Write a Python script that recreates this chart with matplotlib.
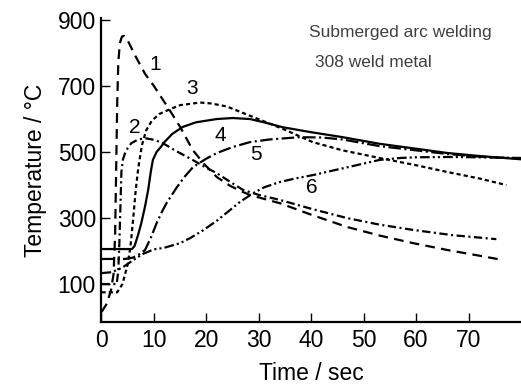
import matplotlib
matplotlib.use("Agg")
import matplotlib.pyplot as plt

plt.rcParams["font.family"] = ["Liberation Sans", "DejaVu Sans"]
plt.rcParams["lines.scale_dashes"] = False

# cooling curves (time in s, temperature in degC)
t1 = [0, 1, 1.8, 2.3, 2.6, 2.8, 3.0, 3.2, 3.5, 3.9, 4.3, 5, 6.5, 8.3, 10, 13, 15, 17.4, 19.5,
      22, 24.5, 26.5, 28.3, 31, 34, 40, 46.8, 53, 59.4, 66, 72, 76.5]
temp1 = [15, 40, 80, 130, 250, 450, 650, 770, 830, 850, 852, 838, 790, 737, 700, 627, 576, 506, 465,
         424, 398, 382, 370, 358, 345, 310, 273, 247, 224, 203, 186, 173]

t2 = [0, 2.9, 3.2, 3.4, 3.6, 3.8, 4.1, 4.5, 5.0, 5.7, 7, 8.3, 10, 11.7, 14, 17.4, 20, 22,
      24.5, 27, 30, 34, 40, 46.8, 53, 59.4, 67, 75.3]
temp2 = [100, 100, 140, 220, 330, 440, 478, 497, 512, 527, 538, 542, 537, 527, 505, 476, 452, 436,
         410, 385, 370, 355, 328, 300, 280, 264, 248, 236]

t3 = [0, 3.0, 4.0, 5.0, 5.5, 6.0, 6.5, 7.0, 7.7, 8.5, 9.6, 11, 13.4, 15, 18.8, 21, 23.9, 28.3,
      34.6, 40.3, 46, 53, 60, 65.8, 72, 77.2]
temp3 = [75, 75, 100, 160, 210, 290, 380, 450, 520, 565, 595, 615, 632, 642, 650, 647, 638, 610,
         570, 530, 505, 482, 460, 440, 420, 400]

t4 = [0, 5.8, 6.3, 7, 7.6, 8.3, 8.9, 9.4, 9.8, 10.5, 11.3, 12, 13.5, 15.5, 18, 22, 25, 28.3,
      31, 34.6, 40, 46, 53, 60, 66, 72, 80]
temp4 = [206, 206, 215, 250, 285, 335, 385, 440, 476, 500, 515, 530, 555, 576, 590, 600, 603, 600,
         590, 575, 560, 545, 525, 510, 497, 488, 478]

t5 = [0, 4.5, 6, 7.2, 8.3, 9.4, 10.5, 11.5, 12.4, 14.4, 16, 17.5, 20, 22, 25, 28.3, 32, 37.8,
      42, 46, 53, 60, 66, 72, 80]
temp5 = [176, 176, 180, 190, 203, 240, 284, 318, 345, 394, 428, 455, 480, 497, 515, 530, 538, 545,
         544, 538, 518, 505, 494, 486, 480]

t6 = [0, 2, 4, 6, 8, 10, 12, 15, 17, 19.4, 22, 24.5, 26.5, 28.9, 31, 34, 37, 40.3, 45, 50,
      53, 57, 60, 66.4, 72, 80]
temp6 = [133, 136, 150, 172, 192, 205, 210, 224, 240, 263, 292, 324, 350, 375, 393, 409, 420, 430,
         447, 465, 476, 482, 484, 485, 484, 482]

curve_names = ["1", "2", "3", "4", "5", "6"]
label_t = [10.2, 6.4, 17.2, 22.6, 29.4, 40.1]
label_temp = [764, 573, 694, 551, 491, 391]

x_ticks = [0, 10, 20, 30, 40, 50, 60, 70]
y_ticks = [100, 300, 500, 700, 900]

styles = [
    (0, (7, 4.5)),
    (0, (6, 2.5, 1.5, 2.5)),
    (0, (3, 2.2)),
    "-",
    (0, (9, 2.5, 1.5, 2.5)),
    (0, (7, 2.2, 1.5, 2.2, 1.5, 2.2)),
]

fig = plt.figure(figsize=(5.21, 3.9), dpi=100)
ax = fig.add_axes([0.1948, 0.1744, 0.8052, 0.7785])

curves = [(t1, temp1), (t2, temp2), (t3, temp3), (t4, temp4), (t5, temp5), (t6, temp6)]
for (t, temp), ls in zip(curves, styles):
    ax.plot(t, temp, color="black", lw=1.6, linestyle=ls, solid_capstyle="round")

for name, lt, lT in zip(curve_names, label_t, label_temp):
    ax.text(lt, lT, name, fontsize=15, ha="center", va="center")

ax.text(0.494, 0.955, "Submerged arc welding", transform=ax.transAxes,
        fontsize=12.5, color="#404040", va="center")
ax.text(0.508, 0.855, "308 weld metal", transform=ax.transAxes,
        fontsize=12.5, color="#404040", va="center")

ax.set_xlim(0, 80)
ax.set_ylim(-15, 905)
ax.set_xticks(x_ticks)
ax.set_yticks(y_ticks)
ax.spines["top"].set_visible(False)
ax.spines["right"].set_visible(False)
ax.spines["left"].set_linewidth(1.6)
ax.spines["bottom"].set_linewidth(1.6)
ax.tick_params(direction="in", length=6.5, width=1.0, labelsize=16.5)
ax.tick_params(axis="x", pad=5)
ax.tick_params(axis="y", pad=4)

ax.set_xlabel("Time / sec", fontsize=16.5, labelpad=7)
ax.set_ylabel("Temperature / °C", fontsize=16.5, labelpad=8)

fig.savefig("out.png", dpi=100)
